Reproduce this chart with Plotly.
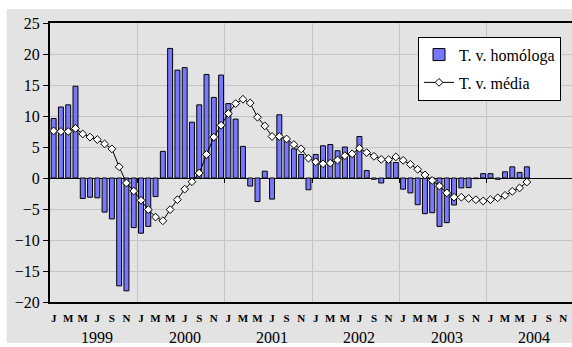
import plotly.graph_objects as go

# Monthly year-on-year rate (bars) and moving-average rate (line), Jan 1999 - Jun 2004
years = ["1999", "2000", "2001", "2002", "2003", "2004"]
month_initials = ["J", "F", "M", "A", "M", "J", "J", "A", "S", "O", "N", "D"]

tv_homologa = [
    9.6, 11.45, 11.8, 14.8, -3.3, -3.1, -3.2, -5.5, -6.6, -17.4, -18.2, -8.0,
    -8.9, -7.8, -3.0, 4.3, 20.9, 17.4, 17.8, 9.0, 11.8, 16.7, 13.0, 16.6,
    12.0, 9.5, 5.1, -1.3, -3.8, 1.1, -3.4, 10.2, 6.1, 4.7, 3.8, -1.9,
    3.8, 5.2, 5.4, 4.4, 5.0, 3.9, 6.7, 1.2, -0.2, -0.8, 2.6, 2.5,
    -1.8, -2.4, -4.3, -5.75, -5.6, -7.8, -7.2, -4.35, -1.6, -1.55, -0.1, 0.7,
    0.7, -0.2, 1.0, 1.8, 0.9, 1.8,
]
tv_media = [
    7.6, 7.5, 7.5, 8.0, 7.1, 6.6, 6.2, 5.5, 4.7, 1.8, -0.8, -2.1,
    -3.6, -5.1, -6.3, -6.9, -5.1, -3.5, -1.8, -0.6, 0.8, 3.8, 6.6, 8.5,
    10.4, 12.0, 12.7, 12.1, 9.8, 8.4, 6.7, 6.7, 6.3, 5.4, 4.7, 3.2,
    2.6, 2.3, 2.4, 2.9, 3.6, 3.9, 4.8, 4.1, 3.5, 3.0, 2.96, 3.4,
    2.85, 2.2, 1.4, 0.5, -0.4, -1.3, -2.4, -3.1, -3.1, -3.3, -3.5, -3.7,
    -3.5, -3.2, -2.8, -2.15, -1.6, -0.65,
]
y_ticks = [-20, -15, -10, -5, 0, 5, 10, 15, 20, 25]

n_axis_months = 12 * len(years)
x_data = list(range(len(tv_homologa)))
month_tickvals = list(range(0, n_axis_months, 2))
month_ticktext = [month_initials[i % 12] for i in month_tickvals]
year_bounds = [12 * k - 0.5 for k in range(1, len(years))]

SERIF = "Liberation Serif"
BG = "#e3e3e3"
GRID = "#c4c4c4"

fig = go.Figure()
fig.add_trace(go.Bar(
    x=x_data, y=tv_homologa, name="T. v. homóloga", legendgroup="a",
    marker=dict(color="#7878ff", line=dict(color="black", width=1)),
))
fig.add_trace(go.Scatter(
    x=x_data, y=tv_media, name="T. v. média", mode="lines+markers",
    legendgroup="b",
    line=dict(color="black", width=1),
    marker=dict(symbol="diamond", size=6, color="white",
                line=dict(color="black", width=1)),
))
# invisible carrier for the category tick marks on the zero line
fig.add_trace(go.Scatter(x=[None], y=[None], xaxis="x2", showlegend=False,
                         hoverinfo="skip"))

# year labels under the month initials
for k, yr in enumerate(years):
    fig.add_annotation(x=12 * k + 6, y=-0.161, xref="x", yref="paper",
                       text=yr, showarrow=False, yanchor="bottom",
                       borderpad=0,
                       font=dict(family=SERIF, size=16, color="black"))

# grey chart-area panel
fig.add_shape(type="rect", xref="paper", yref="paper",
              x0=-0.083, x1=1.01, y0=-0.147, y1=1.05,
              fillcolor=BG, line=dict(width=0), layer="below")

x_range = [-0.5, 71.2]
fig.update_layout(
    width=572, height=347,
    margin=dict(l=50, r=0, t=23, b=45),
    paper_bgcolor="white", plot_bgcolor=BG,
    bargap=0.32,
    font=dict(family=SERIF, color="black"),
    xaxis=dict(
        range=x_range, tickmode="array", tickvals=month_tickvals,
        ticktext=month_ticktext, ticks="", showgrid=False,
        ticklabelstandoff=5,
        showline=True, linecolor="black", linewidth=2, mirror=True,
        tickfont=dict(family=SERIF, size=11, color="black", weight="bold"),
        minor=dict(tickmode="array", tickvals=year_bounds, showgrid=True,
                   gridcolor=GRID, gridwidth=1, ticks=""),
        zeroline=False,
    ),
    xaxis2=dict(
        range=x_range, overlaying="x", anchor="free",
        position=20 / 45, tickmode="array", tickvals=year_bounds,
        ticks="outside", ticklen=4, tickcolor="black", tickwidth=1,
        showticklabels=False, showgrid=False, showline=False, zeroline=False,
    ),
    yaxis=dict(
        range=[-20, 25], tickmode="array", tickvals=y_ticks,
        ticks="outside", ticklen=5, tickcolor="black",
        showline=True, linecolor="black", linewidth=2,
        showgrid=True, gridcolor=GRID, gridwidth=1,
        zeroline=True, zerolinecolor="black", zerolinewidth=1,
        tickfont=dict(family=SERIF, size=16, color="black"),
    ),
    legend=dict(
        x=0.705, y=0.951, xanchor="left", yanchor="top",
        bgcolor="white", bordercolor="black", borderwidth=1,
        font=dict(family=SERIF, size=16, color="black"),
        tracegroupgap=4, itemwidth=30,
    ),
    showlegend=True,
)

fig.write_html("out.html")
